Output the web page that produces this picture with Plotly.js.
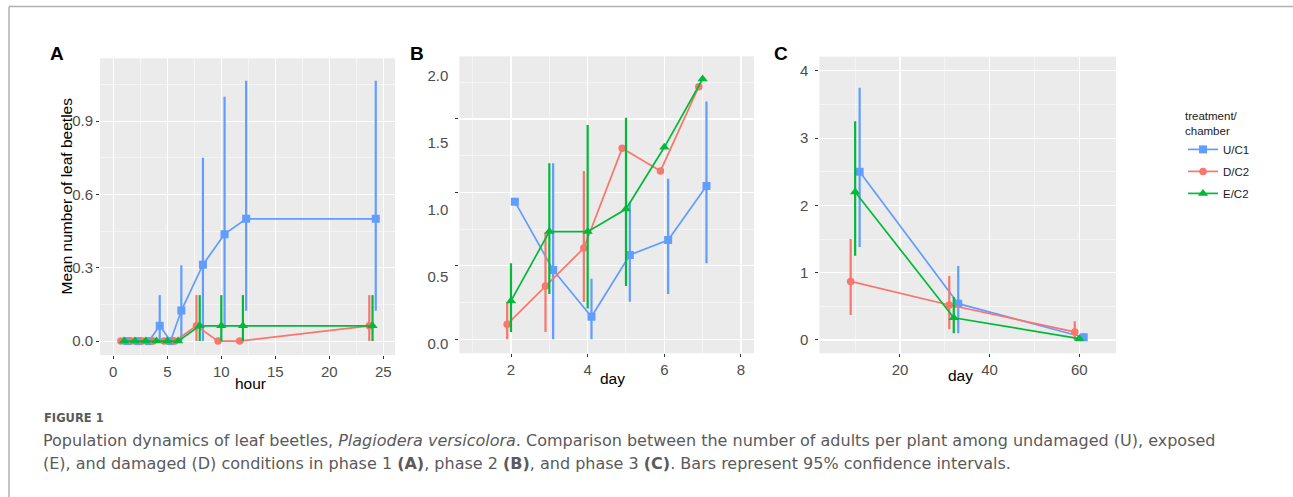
<!DOCTYPE html>
<html><head><meta charset="utf-8">
<script src="https://cdn.plot.ly/plotly-3.0.1.min.js"></script>
<style>html,body{margin:0;padding:0;background:#fff;}#chart{width:1293px;height:497px;}</style>
</head><body><div id="chart"></div>
<script>
// ---------- DATA ----------
// Phase 1 (A) : hour
const hourU = [1.3, 2.3, 3.3, 4.3, 5.3, 6.3, 8.3, 10.3, 12.3, 24.3];
const meanA_U = [0, 0, 0, 0.0625, 0, 0.125, 0.3125, 0.4375, 0.5, 0.5];
const loA_U = [null, null, null, 0, null, 0, 0, 0.065, 0.124, 0.124];
const hiA_U = [null, null, null, 0.188, null, 0.31, 0.75, 1.0, 1.065, 1.065];

const hourD = [0.7, 1.7, 2.7, 3.7, 4.7, 5.7, 7.7, 9.7, 11.7, 23.7];
const meanA_D = [0, 0, 0, 0, 0, 0, 0.0625, 0, 0, 0.0625];
const loA_D = [null, null, null, null, null, null, 0, null, null, 0];
const hiA_D = [null, null, null, null, null, null, 0.188, null, null, 0.188];

const hourE = [1, 2, 3, 4, 5, 6, 8, 10, 12, 24];
const meanA_E = [0, 0, 0, 0, 0, 0, 0.0625, 0.0625, 0.0625, 0.0625];
const loA_E = [null, null, null, null, null, null, 0, 0, 0, 0];
const hiA_E = [null, null, null, null, null, null, 0.188, 0.188, 0.188, 0.188];

// Phase 2 (B) : day
const dayB_U = [2.1, 3.1, 4.1, 5.1, 6.1, 7.1];
const meanB_U = [0.937, 0.472, 0.154, 0.574, 0.676, 1.044];
const loB_U = [null, 0, 0, 0.256, 0.308, 0.517];
const hiB_U = [null, 1.198, 0.413, 0.930, 1.093, 1.618];

const dayB_D = [1.9, 2.9, 3.9, 4.9, 5.9, 6.9];
const meanB_D = [0.102, 0.363, 0.621, 1.300, 1.146, 1.720];
const loB_D = [0, 0.05, 0.254, null, null, null];
const hiB_D = [0.254, 0.728, 1.146, null, null, null];

const dayB_E = [2, 3, 4, 5, 6, 7];
const meanB_E = [0.261, 0.733, 0.733, 0.887, 1.307, 1.772];
const loB_E = [0.05, 0.308, 0.209, 0.363, null, null];
const hiB_E = [0.517, 1.198, 1.459, 1.509, null, null];

// Phase 3 (C) : day
const dayC_U = [11, 33, 61];
const meanC_U = [2.5, 0.54, 0.04];
const loC_U = [1.38, 0.1, 0];
const hiC_U = [3.75, 1.1, 0.1];

const dayC_D = [9, 31, 59];
const meanC_D = [0.87, 0.52, 0.12];
const loC_D = [0.37, 0.16, 0];
const hiC_D = [1.5, 0.95, 0.28];

const dayC_E = [10, 32, 60];
const meanC_E = [2.2, 0.33, 0.02];
const loC_E = [1.25, 0.1, 0];
const hiC_E = [3.25, 0.64, 0.05];

const seriesNames = ['U/C1', 'D/C2', 'E/C2'];
const yTitle = 'Mean number of leaf beetles';
const captionHead = 'FIGURE 1';
const captionLine1 = 'Population dynamics of leaf beetles, <i>Plagiodera versicolora</i>. Comparison between the number of adults per plant among undamaged (U), exposed';
const captionLine2 = '(E), and damaged (D) conditions in phase 1 <b>(A)</b>, phase 2 <b>(B)</b>, and phase 3 <b>(C)</b>. Bars represent 95% confidence intervals.';

// ---------- STYLE ----------
const COL = {U: '#619CFF', D: '#F8766D', E: '#00BA38'};
const SYM = {U: 'square', D: 'circle', E: 'triangle-up'};
const MSIZE = {U: 8, D: 7.5, E: 9};
const FONT = 'Liberation Sans, Arial, Helvetica, sans-serif';
const CAPFONT = 'DejaVu Sans, sans-serif';
const W = 1293, H = 497;
const PX = v => v / W;
const PY = v => 1 - v / H;

function mk(key, name, x, mean, lo, hi, xa, ya, showlegend) {
  const up = hi.map((h, i) => (h === null ? NaN : h - mean[i]));
  const dn = lo.map((l, i) => (l === null ? NaN : mean[i] - l));
  return {
    type: 'scatter', mode: 'lines+markers', name: name, legendgroup: key,
    showlegend: showlegend, x: x, y: mean, xaxis: xa, yaxis: ya,
    line: {color: COL[key], width: 1.7},
    marker: {color: COL[key], symbol: SYM[key], size: MSIZE[key]},
    error_y: {type: 'data', symmetric: false, array: up, arrayminus: dn,
              color: COL[key], thickness: 2.2, width: 0},
    hoverinfo: 'x+y'
  };
}

const traces = [
  mk('U', seriesNames[0], hourU, meanA_U, loA_U, hiA_U, 'x', 'y', true),
  mk('D', seriesNames[1], hourD, meanA_D, loA_D, hiA_D, 'x', 'y', true),
  mk('E', seriesNames[2], hourE, meanA_E, loA_E, hiA_E, 'x', 'y', true),
  mk('U', seriesNames[0], dayB_U, meanB_U, loB_U, hiB_U, 'x2', 'y2', false),
  mk('D', seriesNames[1], dayB_D, meanB_D, loB_D, hiB_D, 'x2', 'y2', false),
  mk('E', seriesNames[2], dayB_E, meanB_E, loB_E, hiB_E, 'x2', 'y2', false),
  mk('U', seriesNames[0], dayC_U, meanC_U, loC_U, hiC_U, 'x3', 'y3', false),
  mk('D', seriesNames[1], dayC_D, meanC_D, loC_D, hiC_D, 'x3', 'y3', false),
  mk('E', seriesNames[2], dayC_E, meanC_E, loC_E, hiC_E, 'x3', 'y3', false),
  // empty trace that registers the printed-label axis of panel B
  {type: 'scatter', mode: 'markers', x: [], y: [], xaxis: 'x2', yaxis: 'y4', showlegend: false, hoverinfo: 'skip'}
];

const tickFont = {family: FONT, size: 15, color: '#4d4d4d'};
function ax(extra) {
  return Object.assign({
    showgrid: true, gridcolor: '#ffffff', gridwidth: 1.1,
    zeroline: false, showline: false,
    ticks: 'outside', ticklen: 3, tickwidth: 1, tickcolor: '#333333',
    tickfont: tickFont, fixedrange: true
  }, extra);
}
const minor = (d) => ({dtick: d, tick0: 0, showgrid: true, gridcolor: '#ffffff', gridwidth: 0.5, ticks: ''});

function note(text, x, y, font, extra) {
  return Object.assign({text: text, x: PX(x), y: PY(y), xref: 'paper', yref: 'paper',
    xanchor: 'center', yanchor: 'middle', showarrow: false, font: font}, extra || {});
}
const titleFont = {family: FONT, size: 15.5, color: '#000'};
const letterFont = {family: FONT, size: 19, color: '#000'};
const capFont = {family: CAPFONT, size: 16, color: '#5a5a5a'};

const layout = {
  width: W, height: H, autosize: false,
  margin: {l: 0, r: 0, t: 0, b: 0, pad: 0},
  paper_bgcolor: '#ffffff', plot_bgcolor: '#EBEBEB',
  font: {family: FONT, color: '#000'},
  // Panel A
  xaxis: ax({domain: [PX(100), PX(395)], range: [-1.23, 26.08], dtick: 5, tick0: 0, minor: minor(2.5), anchor: 'y'}),
  yaxis: ax({domain: [PY(355), PY(58.3)], range: [-0.057, 1.157], dtick: 0.3, tick0: 0, tickformat: '.1f', minor: minor(0.15), anchor: 'x'}),
  // Panel B (grid axis)
  xaxis2: ax({domain: [PX(459.3), PX(754)], range: [0.651, 8.34], dtick: 2, tick0: 0, minor: minor(1), anchor: 'y2'}),
  yaxis2: ax({domain: [PY(353.3), PY(56.3)], range: [-0.0953, 1.9265], dtick: 0.5, tick0: 0, minor: minor(0.25), showticklabels: false, anchor: 'x2'}),
  // Panel B (label axis as printed)
  yaxis4: {overlaying: 'y2', anchor: 'x2', side: 'left', range: [-0.0745, 2.1416], dtick: 0.5, tick0: 0,
           tickformat: '.1f', showgrid: false, zeroline: false, showline: false,
           ticks: 'outside', ticklen: 3, tickcolor: 'rgba(0,0,0,0)', tickfont: tickFont, ticklabelstandoff: 4, fixedrange: true},
  // Panel C
  xaxis3: ax({domain: [PX(819.3), PX(1116)], range: [2.0, 68.2], dtick: 20, tick0: 0, minor: minor(10), anchor: 'y3'}),
  yaxis3: ax({domain: [PY(353.3), PY(56.7)], range: [-0.198, 4.21], dtick: 1, tick0: 0, minor: minor(0.5), anchor: 'x3', ticklabelstandoff: 4}),
  showlegend: true,
  legend: {
    x: PX(1183), y: PY(105), xanchor: 'left', yanchor: 'top',
    bgcolor: 'rgba(0,0,0,0)', borderwidth: 0,
    font: {family: FONT, size: 11.5, color: '#1a1a1a'},
    title: {text: 'treatment/<br>chamber', font: {family: FONT, size: 11.5, color: '#1a1a1a'}},
    tracegroupgap: 3, itemwidth: 30
  },
  annotations: [
    note('<b>A</b>', 57, 53, letterFont),
    note('<b>B</b>', 416.5, 53, letterFont),
    note('<b>C</b>', 781, 53, letterFont),
    note(yTitle, 66.5, 196, titleFont, {textangle: -90}),
    note('hour', 250, 383, titleFont),
    note('day', 612, 378, titleFont),
    note('day', 960, 375, titleFont),
    note('<b>' + captionHead + '</b>', 42, 418, {family: CAPFONT, size: 11.5, color: '#5a5a5a'}, {xanchor: 'left'}),
    note(captionLine1, 41, 440, capFont, {xanchor: 'left'}),
    note(captionLine2, 41, 463, capFont, {xanchor: 'left'})
  ],
  shapes: [
    {type: 'line', xref: 'paper', yref: 'paper', x0: PX(9), x1: 1, y0: PY(6.5), y1: PY(6.5), line: {color: '#b0b0b0', width: 1.5}},
    {type: 'line', xref: 'paper', yref: 'paper', x0: PX(9), x1: PX(9), y0: 0, y1: PY(6.5), line: {color: '#b0b0b0', width: 1.5}}
  ]
};

Plotly.newPlot('chart', traces, layout, {displayModeBar: false, staticPlot: true});
</script>
</body></html>
